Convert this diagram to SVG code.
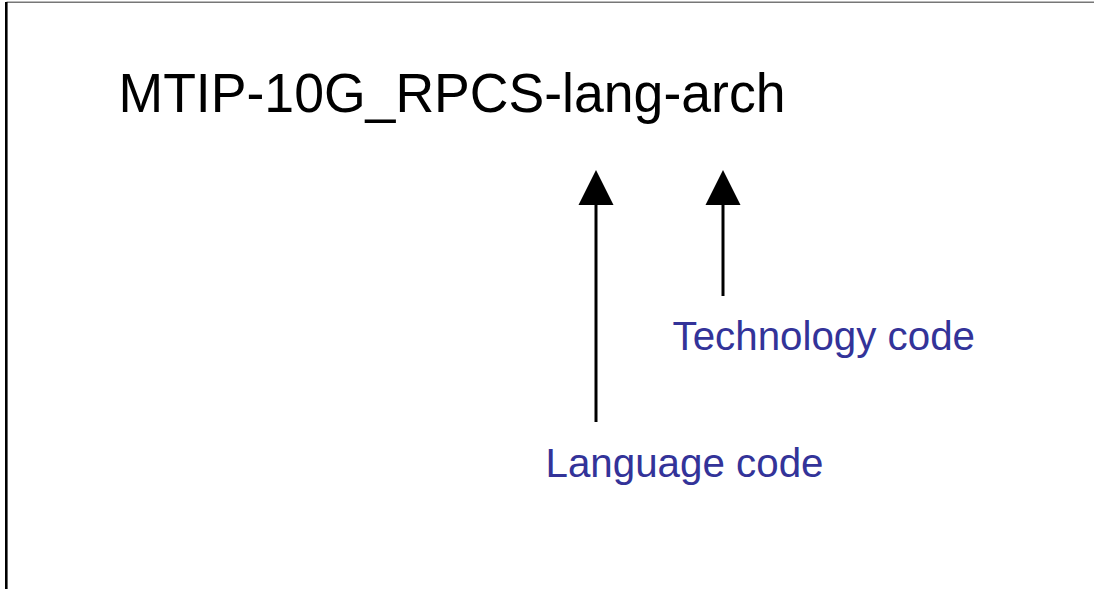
<svg xmlns="http://www.w3.org/2000/svg" width="1094" height="589" viewBox="0 0 1094 589">
<defs>
<style>
.title{font-family:"Liberation Sans",Arial,sans-serif;font-size:55px;fill:#000}
.label{font-family:"Liberation Sans",Arial,sans-serif;font-size:41px;fill:#333399}
.shaft{stroke:#000;stroke-width:3;fill:none}
.head{fill:#000}
</style>
</defs>
<rect x="0" y="0" width="1094" height="589" fill="#fff"/>
<g id="frame">
<line x1="6.5" y1="2.2" x2="1094" y2="2.2" stroke="#777" stroke-width="1.5"/>
<line x1="6.3" y1="2" x2="6.3" y2="589" stroke="#000" stroke-width="2.6"/>
</g>
<g id="title"><text class="title" x="118.5" y="112.3" textLength="667" lengthAdjust="spacingAndGlyphs">MTIP-10G_RPCS-lang-arch</text></g>
<g id="tech"><text class="label" x="672.5" y="349.5" textLength="302.5" lengthAdjust="spacingAndGlyphs">Technology code</text></g>
<g id="lang"><text class="label" x="545.5" y="476.7" textLength="278" lengthAdjust="spacingAndGlyphs">Language code</text></g>
<g id="connectors">
<line class="shaft" x1="596" y1="204" x2="596" y2="422"/>
<polygon class="head" points="596,170 613.5,205 578.5,205"/>
<line class="shaft" x1="723" y1="204" x2="723" y2="296"/>
<polygon class="head" points="723,170 740.5,205 705.5,205"/>
</g>
</svg>
